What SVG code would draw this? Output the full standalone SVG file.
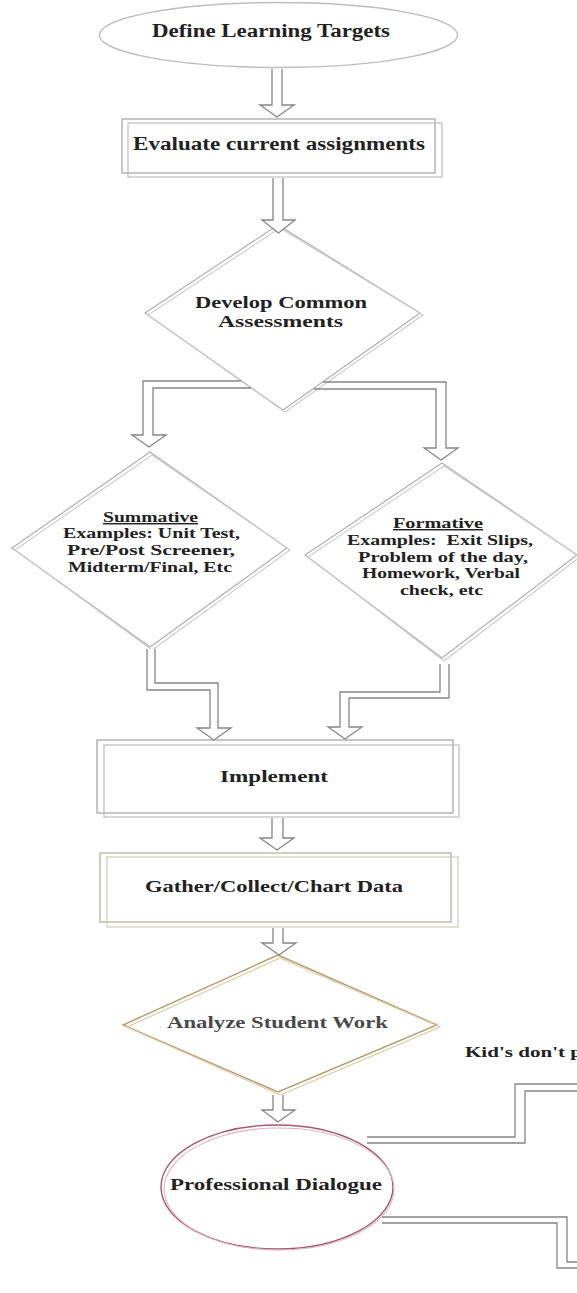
<svg xmlns="http://www.w3.org/2000/svg" width="577" height="1293" viewBox="0 0 577 1293">
<style>
.t{font-family:"Liberation Serif","Times New Roman",serif;font-weight:bold;fill:#222;}
.big{font-size:18px;}
.mid{font-size:17px;}
.sm{font-size:14.5px;}
.boxA{fill:#fff;stroke:#a8a8a8;stroke-width:1.3;}
.boxB{fill:none;stroke:#bdbdbd;stroke-width:1.2;}
.gold{fill:#fff;stroke:#b7b29c;stroke-width:1.3;}
.goldB{fill:none;stroke:#cfcbb8;stroke-width:1.2;}
.dia{fill:#fff;stroke:#b0b0b0;stroke-width:1.2;}
.diaB{fill:none;stroke:#cccccc;stroke-width:1.1;}
.tan{fill:#fff;stroke:#b49c6c;stroke-width:1.4;}
.tanB{fill:none;stroke:#d9ccaa;stroke-width:1.2;}
.arr{fill:#fff;stroke:#858585;stroke-width:1.3;stroke-linejoin:miter;}
.arrn{fill:none;stroke:#858585;stroke-width:1.3;stroke-linejoin:miter;}
</style>
<rect x="0" y="0" width="577" height="1293" fill="#fff"/>

<g id="define">
<ellipse cx="278.5" cy="35" rx="179" ry="32.5" fill="#fff" stroke="#bdbdbd" stroke-width="1.3"/>
<text class="t big" x="152" y="37" textLength="238" lengthAdjust="spacingAndGlyphs">Define Learning Targets</text>
</g>

<g id="evaluate">
<rect class="boxA" x="122" y="119" width="313" height="54"/>
<rect class="boxB" x="128" y="123" width="314" height="54"/>
<text class="t big" x="133" y="150" textLength="292" lengthAdjust="spacingAndGlyphs">Evaluate current assignments</text>
</g>

<g id="develop">
<polygon class="dia" points="278,225 145,313 283,410 420,313"/>
<polygon class="diaB" points="280,228 148,315 285,412 423,315"/>
<text class="t mid" x="195" y="308" textLength="172" lengthAdjust="spacingAndGlyphs">Develop Common</text>
<text class="t mid" x="218" y="327" textLength="125" lengthAdjust="spacingAndGlyphs">Assessments</text>
</g>

<g id="summative">
<polygon class="dia" points="150,452 12,548 150,647 287,548"/>
<polygon class="diaB" points="152,455 15,550 152,650 290,550"/>
<text class="t sm" x="103" y="522" textLength="95" lengthAdjust="spacingAndGlyphs" text-decoration="underline">Summative</text>
<text class="t sm" x="63" y="538" textLength="177" lengthAdjust="spacingAndGlyphs">Examples: Unit Test,</text>
<text class="t sm" x="67" y="555" textLength="168" lengthAdjust="spacingAndGlyphs">Pre/Post Screener,</text>
<text class="t sm" x="68" y="572" textLength="164" lengthAdjust="spacingAndGlyphs">Midterm/Final, Etc</text>
</g>

<g id="formative">
<polygon class="dia" points="442,463 305,555 442,658 577,555"/>
<polygon class="diaB" points="444,466 308,557 444,661 580,557"/>
<text class="t sm" x="393" y="528" textLength="90" lengthAdjust="spacingAndGlyphs" text-decoration="underline">Formative</text>
<text class="t sm" x="347" y="545" textLength="186" lengthAdjust="spacingAndGlyphs" xml:space="preserve">Examples:  Exit Slips,</text>
<text class="t sm" x="358" y="562" textLength="170" lengthAdjust="spacingAndGlyphs">Problem of the day,</text>
<text class="t sm" x="362" y="578" textLength="158" lengthAdjust="spacingAndGlyphs">Homework, Verbal</text>
<text class="t sm" x="400" y="595" textLength="83" lengthAdjust="spacingAndGlyphs">check, etc</text>
</g>

<g id="implement">
<rect class="boxA" x="97" y="740" width="356" height="73"/>
<rect class="boxB" x="104" y="745" width="355" height="72"/>
<text class="t mid" x="220" y="782" textLength="108" lengthAdjust="spacingAndGlyphs">Implement</text>
</g>

<g id="gather">
<rect class="gold" x="100" y="853" width="351" height="69"/>
<rect class="goldB" x="107" y="857" width="351" height="70"/>
<text class="t mid" x="145" y="892" textLength="258" lengthAdjust="spacingAndGlyphs">Gather/Collect/Chart Data</text>
</g>

<g id="analyze">
<polygon class="tan" points="278,955 123,1025 278,1092 437,1025"/>
<polygon class="tanB" points="280,958 127,1027 280,1095 440,1027"/>
<text class="t mid" x="167" y="1028" textLength="221" lengthAdjust="spacingAndGlyphs" style="fill:#4a4a4a">Analyze Student Work</text>
</g>

<g id="professional">
<ellipse cx="277" cy="1187" rx="116" ry="62" fill="#fff" stroke="#a4596e" stroke-width="1.4"/>
<ellipse cx="279" cy="1189" rx="115" ry="61" fill="none" stroke="#dcb2bf" stroke-width="1.1"/>
<text class="t mid" x="170" y="1190" textLength="212" lengthAdjust="spacingAndGlyphs">Professional Dialogue</text>
</g>

<g id="label-kids">
<text class="t" style="font-size:15px" x="465" y="1057" textLength="117" lengthAdjust="spacingAndGlyphs">Kid's don't p</text>
</g>

<g id="connectors">
<path class="arr" d="M272,69 L272,105 L260,105 L277,117 L294,105 L282,105 L282,69"/>
<path class="arr" d="M273,178 L273,220 L262,220 L278.5,233 L295,220 L283,220 L283,178"/>
<path class="arrn" d="M241,381 L143,381 L143,435 L132,435 L149,447 L166,435 L153,435 L153,388 L251,388"/>
<path class="arrn" d="M323,382 L446,382 L446,448 L458,448 L441,460 L424,448 L436,448 L436,389 L314,389"/>
<path class="arr" d="M147,649 L147,690 L210,690 L210,728 L197,728 L214,740 L231,728 L218,728 L218,683 L155,683 L155,649"/>
<path class="arr" d="M449,664 L449,698 L349,698 L349,727 L362,727 L345,739 L328,727 L340,727 L340,692 L440,692 L440,664"/>
<path class="arr" d="M272,818 L272,838 L260,838 L277,850 L294,838 L283,838 L283,818"/>
<path class="arr" d="M273,928 L273,943 L262,943 L279,955 L296,943 L283,943 L283,928"/>
<path class="arr" d="M273,1095 L273,1110 L262,1110 L278,1122 L295,1110 L283,1110 L283,1095"/>
<polyline class="arrn" points="367,1137 515,1137 515,1084 578,1084"/>
<polyline class="arrn" points="367,1143 525,1143 525,1091 578,1091"/>
<polyline class="arrn" points="382,1217 567,1217 567,1262 578,1262"/>
<polyline class="arrn" points="382,1223 557,1223 557,1268 578,1268"/>
</g>
</svg>
